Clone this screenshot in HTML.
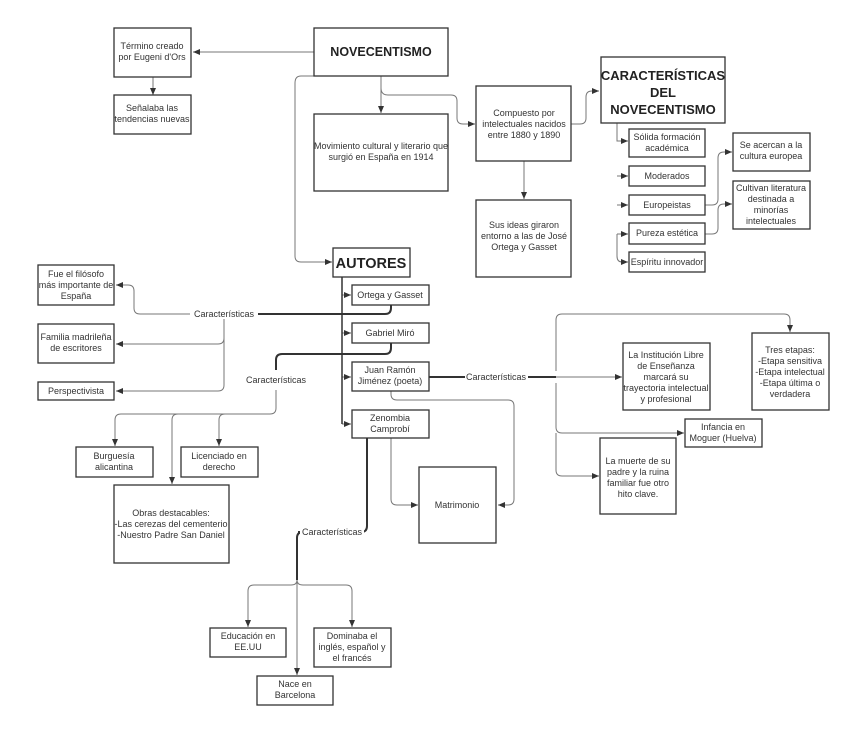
<!DOCTYPE html>
<html><head><meta charset="utf-8"><style>
html,body{margin:0;padding:0;background:#fff;}
svg{display:block;}
text{font-family:"Liberation Sans",sans-serif;fill:#333;font-size:9px;text-anchor:middle;}
.b{font-weight:bold;fill:#222;}
.box{fill:#fff;stroke:#333;stroke-width:1.3;}
.c{fill:none;stroke:#777;stroke-width:1;}
.t{fill:none;stroke:#333;stroke-width:2;}
.lbl{font-size:9px;fill:#444;}
</style></head><body>
<svg width="848" height="750" viewBox="0 0 848 750" xmlns="http://www.w3.org/2000/svg">
<defs>
<marker id="a" markerWidth="8" markerHeight="8" refX="7" refY="4" orient="auto" markerUnits="userSpaceOnUse"><path d="M0,1 L7,4 L0,7 z" fill="#333"/></marker>
</defs>
<!-- connectors -->
<g class="c" marker-end="url(#a)">
<path d="M314,52 H193"/>
<path d="M153,77 V95"/>
<path d="M381,76 V113"/>
<path d="M381,88 Q381,95 388,95 H451 Q457,95 457,101 V118 Q457,124 463,124 H475"/>
<path d="M571,124 H580 Q586,124 586,118 V97 Q586,91 592,91 H599"/>
<path d="M524,161 V199"/>
<path d="M314,76 H301 Q295,76 295,83 V256 Q295,262 301,262 H332"/>
<path d="M617,123 V141 H628"/>
<path d="M617,176 H628"/>
<path d="M617,205 H628"/>
<path d="M617,234 H628"/>
<path d="M617,234 V256 Q617,262 622,262 H628"/>
<path d="M705,205 H712 Q718,205 718,199 V158 Q718,152 724,152 H732"/>
<path d="M705,234 H712 Q718,234 718,228 V210 Q718,204 724,204 H732"/>
<path d="M342,295 H351"/><path d="M342,333 H351"/><path d="M342,377 H351"/><path d="M342,424 H351"/>
<path d="M224,318 V338 Q224,344 218,344 H116"/>
<path d="M224,338 V385 Q224,391 218,391 H116"/>
<path d="M276,390 V408 Q276,414 270,414 H121 Q115,414 115,420 V446"/>
<path d="M178,414 Q172,414 172,420 V484"/>
<path d="M225,414 Q219,414 219,420 V446"/>
<path d="M391,438 V499 Q391,505 397,505 H418"/>
<path d="M391,391 V394 Q391,400 397,400 H508 Q514,400 514,406 V499 Q514,505 508,505 H498"/>
<path d="M556,371 V320 Q556,314 562,314 H784 Q790,314 790,320 V332"/>
<path d="M556,377 H622"/>
<path d="M556,383 V427 Q556,433 562,433 H684"/>
<path d="M556,433 V470 Q556,476 562,476 H599"/>
<path d="M297,580 Q297,585 291,585 H254 Q248,585 248,591 V627"/>
<path d="M297,580 V675"/>
<path d="M297,580 Q297,585 303,585 H346 Q352,585 352,591 V627"/>
</g>
<g class="t">
<path d="M342,277 V424" style="stroke-width:1.5"/>
<path d="M391,305 V308 Q391,314 385,314 H258"/>
<path d="M190,314 H140 Q134,314 134,308 V291 Q134,285 128,285 H116" class="c" marker-end="url(#a)"/>
<path d="M391,343 V348 Q391,354 385,354 H282 Q276,354 276,360 V370"/>
<path d="M429,377 H465 M528,377 H556"/>
<path d="M367,438 V526 Q367,532 361,532 H364"/>
<path d="M297,580 V538 Q297,532 303,532 H298"/>
</g>
<path d="M224,318 V313" class="t"/>
<!-- labels -->
<g class="lbl">
<rect x="190" y="308" width="68" height="11" fill="#fff"/><text x="224" y="317">Características</text>
<text x="276" y="383">Características</text>
<rect x="465" y="371" width="63" height="11" fill="#fff"/><text x="496" y="380">Características</text>
<rect x="300" y="527" width="64" height="11" fill="#fff"/><text x="332" y="535">Características</text>
</g>
<!-- boxes -->
<g>
<rect class="box" x="114" y="28" width="77" height="49"/><text x="152" y="49">Término creado</text><text x="152" y="60">por Eugeni d'Ors</text>
<rect class="box" x="114" y="95" width="77" height="39"/><text x="152" y="111">Señalaba las</text><text x="152" y="122">tendencias nuevas</text>
<rect class="box" x="314" y="28" width="134" height="48"/><text class="b" x="381" y="56" style="font-size:12.5px">NOVECENTISMO</text>
<rect class="box" x="314" y="114" width="134" height="77"/><text x="381" y="149">Movimiento cultural y literario que</text><text x="381" y="160">surgió en España en 1914</text>
<rect class="box" x="476" y="86" width="95" height="75"/><text x="524" y="116">Compuesto por</text><text x="524" y="127">intelectuales nacidos</text><text x="524" y="138">entre 1880 y 1890</text>
<rect class="box" x="476" y="200" width="95" height="77"/><text x="524" y="228">Sus ideas giraron</text><text x="524" y="239">entorno a las de José</text><text x="524" y="250">Ortega y Gasset</text>
<rect class="box" x="601" y="57" width="124" height="66"/><text class="b" x="663" y="80" style="font-size:13px">CARACTERÍSTICAS</text><text class="b" x="663" y="97" style="font-size:13px">DEL</text><text class="b" x="663" y="114" style="font-size:13px">NOVECENTISMO</text>
<rect class="box" x="629" y="129" width="76" height="28"/><text x="667" y="140">Sólida formación</text><text x="667" y="151">académica</text>
<rect class="box" x="629" y="166" width="76" height="20"/><text x="667" y="179">Moderados</text>
<rect class="box" x="629" y="195" width="76" height="20"/><text x="667" y="208">Europeistas</text>
<rect class="box" x="629" y="223" width="76" height="21"/><text x="667" y="236">Pureza estética</text>
<rect class="box" x="629" y="252" width="76" height="20"/><text x="667" y="265">Espíritu innovador</text>
<rect class="box" x="733" y="133" width="77" height="38"/><text x="771" y="148">Se acercan a la</text><text x="771" y="159">cultura europea</text>
<rect class="box" x="733" y="181" width="77" height="48"/><text x="771" y="191">Cultivan literatura</text><text x="771" y="202">destinada a</text><text x="771" y="213">minorías</text><text x="771" y="224">intelectuales</text>
<rect class="box" x="333" y="248" width="77" height="29"/><text class="b" x="371" y="268" style="font-size:14.5px">AUTORES</text>
<rect class="box" x="352" y="285" width="77" height="20"/><text x="390" y="298">Ortega y Gasset</text>
<rect class="box" x="352" y="323" width="77" height="20"/><text x="390" y="336">Gabriel Miró</text>
<rect class="box" x="352" y="362" width="77" height="29"/><text x="390" y="373">Juan Ramón</text><text x="390" y="384">Jiménez (poeta)</text>
<rect class="box" x="352" y="410" width="77" height="28"/><text x="390" y="421">Zenombia</text><text x="390" y="432">Camprobí</text>
<rect class="box" x="38" y="265" width="76" height="40"/><text x="76" y="277">Fue el filósofo</text><text x="76" y="288">más importante de</text><text x="76" y="299">España</text>
<rect class="box" x="38" y="324" width="76" height="39"/><text x="76" y="340">Familia madrileña</text><text x="76" y="351">de escritores</text>
<rect class="box" x="38" y="382" width="76" height="18"/><text x="76" y="394">Perspectivista</text>
<rect class="box" x="76" y="447" width="77" height="30"/><text x="114" y="459">Burguesía</text><text x="114" y="470">alicantina</text>
<rect class="box" x="181" y="447" width="77" height="30"/><text x="219" y="459">Licenciado en</text><text x="219" y="470">derecho</text>
<rect class="box" x="114" y="485" width="115" height="78"/><text x="171" y="516">Obras destacables:</text><text x="171" y="527">-Las cerezas del cementerio</text><text x="171" y="538">-Nuestro Padre San Daniel</text>
<rect class="box" x="419" y="467" width="77" height="76"/><text x="457" y="508">Matrimonio</text>
<rect class="box" x="623" y="343" width="87" height="67"/><text x="666" y="358">La Institución Libre</text><text x="666" y="369">de Enseñanza</text><text x="666" y="380">marcará su</text><text x="666" y="391">trayectoria intelectual</text><text x="666" y="402">y profesional</text>
<rect class="box" x="752" y="333" width="77" height="77"/><text x="790" y="353">Tres etapas:</text><text x="790" y="364">-Etapa sensitiva</text><text x="790" y="375">-Etapa intelectual</text><text x="790" y="386">-Etapa última o</text><text x="790" y="397">verdadera</text>
<rect class="box" x="685" y="419" width="77" height="28"/><text x="723" y="430">Infancia en</text><text x="723" y="441">Moguer (Huelva)</text>
<rect class="box" x="600" y="438" width="76" height="76"/><text x="638" y="464">La muerte de su</text><text x="638" y="475">padre y la ruina</text><text x="638" y="486">familiar fue otro</text><text x="638" y="497">hito clave.</text>
<rect class="box" x="210" y="628" width="76" height="29"/><text x="248" y="639">Educación en</text><text x="248" y="650">EE.UU</text>
<rect class="box" x="314" y="628" width="77" height="39"/><text x="352" y="639">Dominaba el</text><text x="352" y="650">inglés, español y</text><text x="352" y="661">el francés</text>
<rect class="box" x="257" y="676" width="76" height="29"/><text x="295" y="687">Nace en</text><text x="295" y="698">Barcelona</text>
</g>
</svg>
</body></html>
